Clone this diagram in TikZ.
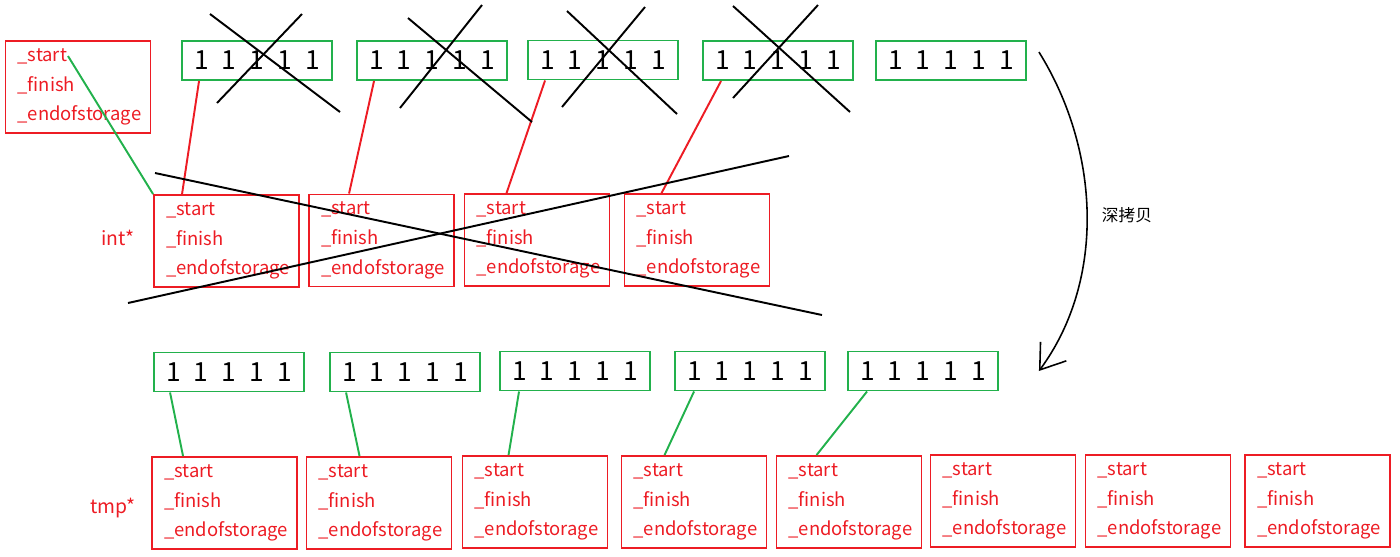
\documentclass[tikz,border=0pt]{standalone}
\usepackage{fontspec}
\setmainfont{Noto Sans CJK SC}
\usetikzlibrary{arrows.meta}
\definecolor{ptrred}{HTML}{ED1C24}
\definecolor{arrgreen}{HTML}{22B14C}

\begin{document}
\begin{tikzpicture}[x=0.02cm,y=-0.02cm,
      vec/.style={rectangle,draw=ptrred,line width=1.1pt,text=ptrred,minimum width=2.9cm,
                  minimum height=1.84cm,align=left,inner xsep=0.24cm,inner ysep=0pt,
                  text width=2.42cm,font=\fontsize{10.5}{17}\selectfont},
      arr/.style={rectangle,draw=arrgreen,line width=1.1pt,minimum width=3cm,minimum height=0.78cm,
                  inner sep=0pt,font=\fontsize{15}{18}\selectfont,
                  execute at begin node={\spaceskip=7.5pt\relax}},
      lbl/.style={text=ptrred,font=\fontsize{11}{14}\selectfont},
      cut/.style={line width=1.1pt},
      rl/.style={draw=ptrred,line width=1.1pt},
      gl/.style={draw=arrgreen,line width=1.1pt}]
      \useasboundingbox (0,0) rectangle (1400,556);
      % old object and its arrays
      \node[vec] (obj) at (78,87) {\_start\\\_finish\\\_endofstorage};
      \coordinate (objs) at (68,56);
      \node[arr] (arr1) at (257,60.5) {1 1 1 1 1};
      \node[arr] (arr2) at (432,60.5) {1 1 1 1 1};
      \node[arr] (arr3) at (603,60) {1 1 1 1 1};
      \node[arr] (arr4) at (778,60.5) {1 1 1 1 1};
      \node[arr] (arr5) at (951,60.5) {1 1 1 1 1};
      \node[vec] (vec1) at (226.5,241) {\_start\\\_finish\\\_endofstorage};
      \node[vec] (vec2) at (381.5,240.5) {\_start\\\_finish\\\_endofstorage};
      \node[vec] (vec3) at (537,240) {\_start\\\_finish\\\_endofstorage};
      \node[vec] (vec4) at (697,240) {\_start\\\_finish\\\_endofstorage};
      \node[lbl] (int) at (118,238) {int*};
      \draw[gl] (objs) -- (vec1.north west);
      \draw[rl] ([xshift=0.58cm]vec1.north west) -- ([xshift=0.36cm]arr1.south west);
      \draw[rl] ([xshift=0.82cm]vec2.north west) -- ([xshift=0.36cm]arr2.south west);
      \draw[rl] ([xshift=0.86cm]vec3.north west) -- ([xshift=0.36cm]arr3.south west);
      \draw[rl] ([xshift=0.76cm]vec4.north west) -- ([xshift=0.38cm]arr4.south west);
      % crossed out
      \draw[cut] (210,14) -- (340,112); \draw[cut] (302,14) -- (217,103);
      \draw[cut] (408,18) -- (532,122); \draw[cut] (482,5) -- (400,108);
      \draw[cut] (567,11) -- (677,114); \draw[cut] (645,7) -- (562,107);
      \draw[cut] (733,6) -- (850,112); \draw[cut] (818,5) -- (733,98);
      \draw[cut] (155,173) -- (822,315); \draw[cut] (128,303) -- (789,156);
      % copy
      \node[arr] (cpy1) at (229,372) {1 1 1 1 1};
      \node[arr] (cpy2) at (405,372) {1 1 1 1 1};
      \node[arr] (cpy3) at (575,371) {1 1 1 1 1};
      \node[arr] (cpy4) at (750,371) {1 1 1 1 1};
      \node[arr] (cpy5) at (923,371) {1 1 1 1 1};
      \node[vec] (tmp1) at (224.5,503) {\_start\\\_finish\\\_endofstorage};
      \node[vec] (tmp2) at (379,503) {\_start\\\_finish\\\_endofstorage};
      \node[vec] (tmp3) at (535,502) {\_start\\\_finish\\\_endofstorage};
      \node[vec] (tmp4) at (694,502) {\_start\\\_finish\\\_endofstorage};
      \node[vec] (tmp5) at (849,502) {\_start\\\_finish\\\_endofstorage};
      \node[vec] (tmp6) at (1003,501) {\_start\\\_finish\\\_endofstorage};
      \node[vec] (tmp7) at (1158,501) {\_start\\\_finish\\\_endofstorage};
      \node[vec] (tmp8) at (1317.5,501) {\_start\\\_finish\\\_endofstorage};
      \node[lbl] (tmp) at (113,508) {tmp*};
      \draw[gl] ([xshift=0.34cm]cpy1.south west) -- ([xshift=0.64cm]tmp1.north west);
      \draw[gl] ([xshift=0.34cm]cpy2.south west) -- ([xshift=1.08cm]tmp2.north west);
      \draw[gl] ([xshift=0.4cm]cpy3.south west) -- ([xshift=0.94cm]tmp3.north west);
      \draw[gl] ([xshift=0.4cm]cpy4.south west) -- ([xshift=0.88cm]tmp4.north west);
      \draw[gl] ([xshift=0.4cm]cpy5.south west) -- ([xshift=0.82cm]tmp5.north west);
      \draw[line width=0.9pt,-{Straight Barb[length=4.6mm,width=6.4mm]}]
        ([xshift=0.24cm,yshift=-0.24cm]arr5.north east) .. controls (1100,150) and (1106,280)
        .. ([xshift=0.8cm]cpy5.east);
      \node[font=\fontsize{9.5}{12}\selectfont] (deep) at (1127,215) {深拷贝};
    \end{tikzpicture}
\end{document}
